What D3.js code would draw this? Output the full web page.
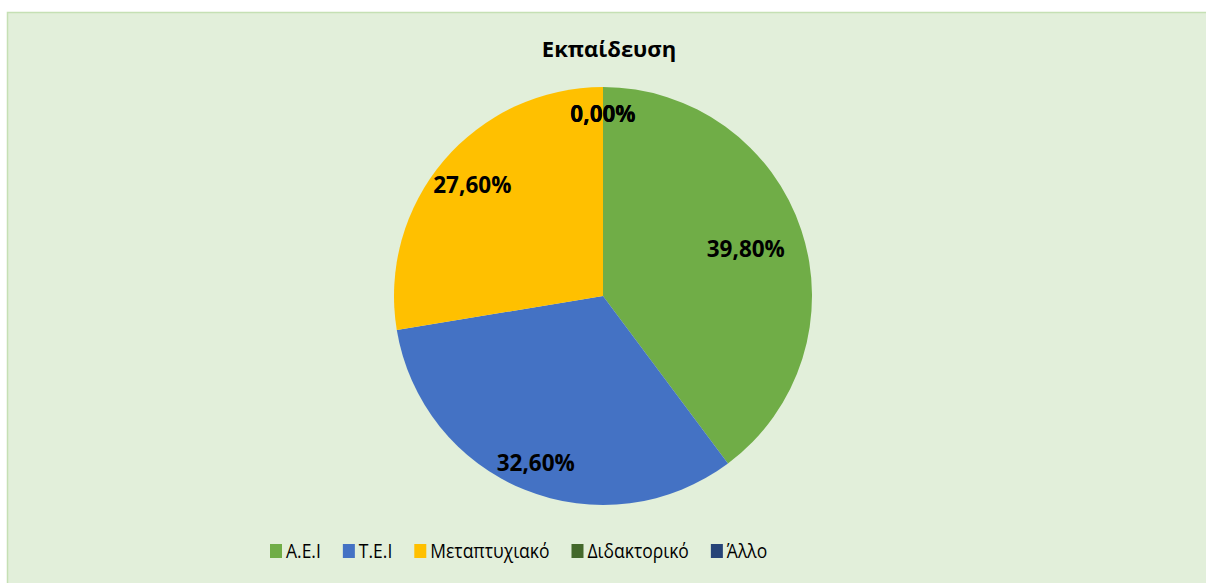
<!DOCTYPE html>
<html>
<head>
<meta charset="utf-8">
<script src="https://cdn.jsdelivr.net/npm/d3@7"></script>
<style>
    body { margin: 0; background: #ffffff; }
    text { font-family: "Open Sans", "Noto Sans", sans-serif; }
</style>
</head>
<body>
<div id="chart"></div>
<script>
"use strict";

// data
const categories = ["Α.Ε.Ι", "Τ.Ε.Ι", "Μεταπτυχιακό", "Διδακτορικό", "Άλλο"];
const shares = [39.8, 32.6, 27.6, 0, 0];
const sliceColors = ["#70AD47", "#4472C4", "#FFC000", "#43682B", "#264478"];
const chartTitle = "Εκπαίδευση";

// label distance from the centre, as part of the radius (Excel best fit)
const labelRadius = [0.72, 0.86, 0.82, 0.87, 0.87];

const msm = {
    width: 1206,
    height: 583,
    cx: 603,
    cy: 296,
    radius: 209,
    legendX: 270,
    legendY: 551,
}

let svg;

window.onload = function () {
    svg = d3.select("#chart")
        .append("svg")
        .attr("width", msm.width)
        .attr("height", msm.height);
    drawFrame();
    drawPie();
    drawLegend();
}

function drawFrame() {
    svg.append("rect")
        .attr("x", 7.5)
        .attr("y", 12.5)
        .attr("width", msm.width)
        .attr("height", msm.height)
        .attr("fill", "#E2EFDA")
        .attr("stroke", "#C5E0B4")
        .attr("stroke-width", 1.5);

    svg.append("text")
        .attr("x", 609)
        .attr("y", 57)
        .attr("text-anchor", "middle")
        .style("font-size", "22px")
        .style("font-weight", "bold")
        .text(chartTitle);
}

function drawPie() {
    let pie = d3.pie().sort(null).value(d => d);
    let arcs = pie(shares);
    let arc = d3.arc().innerRadius(0).outerRadius(msm.radius);

    let g = svg.append("g")
        .attr("transform", "translate(" + msm.cx + "," + msm.cy + ")");

    g.selectAll("path")
        .data(arcs)
        .enter()
        .append("path")
        .attr("d", arc)
        .attr("fill", (d, i) => sliceColors[i]);

    let fmt = v => v.toFixed(2).replace(".", ",") + "%";

    g.selectAll("text")
        .data(arcs)
        .enter()
        .append("text")
        .attr("transform", function (d, i) {
            let r = msm.radius * labelRadius[i];
            let a = (d.startAngle + d.endAngle) / 2;
            return "translate(" + (r * Math.sin(a)) + "," + (-r * Math.cos(a)) + ")";
        })
        .attr("text-anchor", "middle")
        .attr("dy", "0.36em")
        .style("font-size", "22.5px")
        .style("font-weight", "bold")
        .attr("fill", "#000000")
        .text(d => fmt(d.data));
}

function drawLegend() {
    let x = msm.legendX;
    categories.forEach(function (c, i) {
        svg.append("rect")
            .attr("x", x)
            .attr("y", msm.legendY - 7)
            .attr("width", 12)
            .attr("height", 14)
            .attr("fill", sliceColors[i]);
        // Calibri in the original is taller and narrower, so stretch a bit
        let t = svg.append("text")
            .attr("transform", "translate(" + (x + 16) + "," + (msm.legendY + 7) + ") scale(1,1.18)")
            .style("font-size", "17.5px")
            .attr("fill", "#000000")
            .text(c);
        x = x + 16 + t.node().getComputedTextLength() + 22;
    });
}
</script>
</body>
</html>
